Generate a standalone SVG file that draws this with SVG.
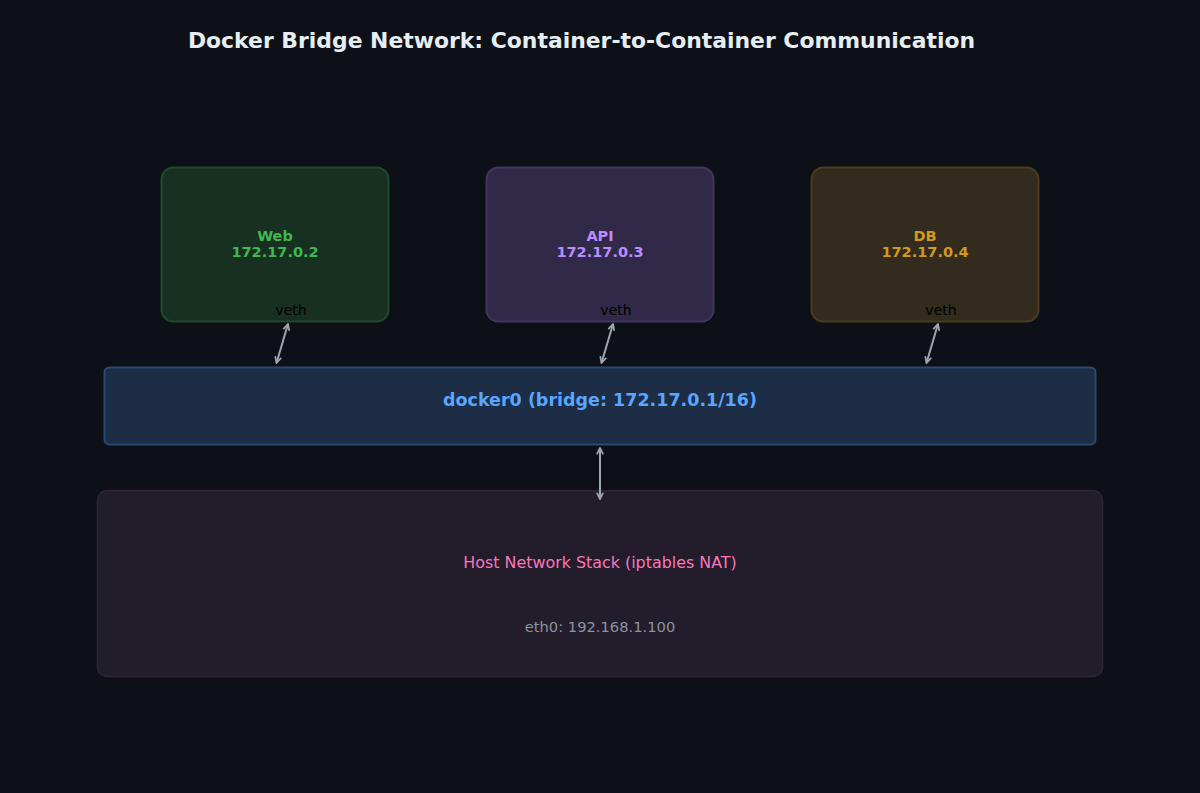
<svg xmlns="http://www.w3.org/2000/svg" width="1200" height="793" viewBox="0 0 1200 793">
  <style>
    text { font-family: "DejaVu Sans", "Liberation Sans", sans-serif; text-anchor: middle; }
    .title { font-size: 21.9px; font-weight: bold; fill: #e6edf3; }
    .name { font-size: 14.5px; font-weight: bold; }
    .veth { font-size: 14px; fill: #000000; }
    .conn { stroke: #9ea5ae; stroke-width: 2; fill: none; marker-start: url(#arr); marker-end: url(#arr); }
  </style>
  <defs>
    <marker id="arr" viewBox="0 0 10 10" refX="9" refY="5" markerWidth="8" markerHeight="8" orient="auto-start-reverse" markerUnits="userSpaceOnUse">
      <path d="M2,1.5 L9,5 L2,8.5" fill="none" stroke="#9ea5ae" stroke-width="2.2" stroke-linecap="round" stroke-linejoin="round"/>
    </marker>
  </defs>
  <rect width="1200" height="793" fill="#0d1117"/>
  <text class="title" x="581.5" y="48">Docker Bridge Network: Container-to-Container Communication</text>

  <g id="web">
    <rect x="161.5" y="167.5" width="227" height="154" rx="12" fill="#183022" stroke="#1f4a2c" stroke-width="2"/>
    <text class="name" x="275" y="241" fill="#3fb950">Web</text>
    <text class="name" x="275" y="257" fill="#3fb950">172.17.0.2</text>
    <text class="veth" x="291" y="315">veth</text>
  </g>
  <g id="api">
    <rect x="486.5" y="167.5" width="227" height="154" rx="12" fill="#302947" stroke="#43365f" stroke-width="2"/>
    <text class="name" x="600" y="241" fill="#bc8cff">API</text>
    <text class="name" x="600" y="257" fill="#bc8cff">172.17.0.3</text>
    <text class="veth" x="616" y="315">veth</text>
  </g>
  <g id="db">
    <rect x="811.5" y="167.5" width="227" height="154" rx="12" fill="#332c1e" stroke="#4a3c1d" stroke-width="2"/>
    <text class="name" x="925" y="241" fill="#d29922">DB</text>
    <text class="name" x="925" y="257" fill="#d29922">172.17.0.4</text>
    <text class="veth" x="941" y="315">veth</text>
  </g>
  <g id="bridge">
    <rect x="104.5" y="367.5" width="991" height="77" rx="5" fill="#1c2d45" stroke="#264a73" stroke-width="2"/>
    <text x="600" y="406" font-size="17.5" font-weight="bold" fill="#58a6ff">docker0 (bridge: 172.17.0.1/16)</text>
  </g>
  <g id="host">
    <rect x="97.5" y="490.5" width="1005" height="186" rx="10" fill="#231c2a" stroke="#2e2535" stroke-width="1.5"/>
    <text x="600" y="568" font-size="15.9" fill="#f778ba">Host Network Stack (iptables NAT)</text>
    <text x="600" y="632" font-size="14.7" fill="#8b949e">eth0: 192.168.1.100</text>
  </g>
  <g id="connectors">
    <line class="conn" x1="276.5" y1="363" x2="288" y2="324"/>
    <line class="conn" x1="601.5" y1="363" x2="613" y2="324"/>
    <line class="conn" x1="926.5" y1="363" x2="938" y2="324"/>
    <line class="conn" x1="600" y1="499" x2="600" y2="448"/>
  </g>
</svg>
